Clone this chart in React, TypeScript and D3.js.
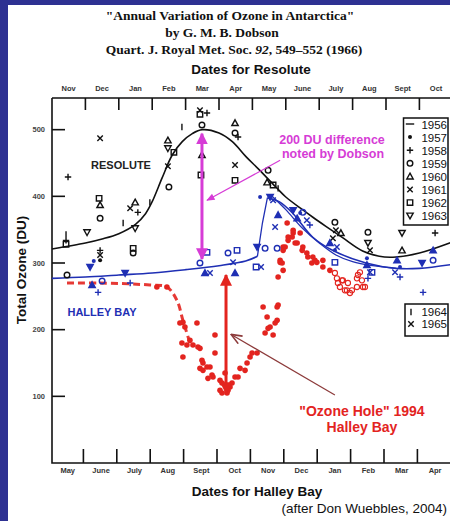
import React from 'react';
import * as d3 from 'd3';

const W = 450, H = 521;

const topMonths = ["Nov","Dec","Jan","Feb","Mar","Apr","May","June","July","Aug","Sept","Oct"];
const bottomMonths = ["May","June","July","Aug","Sept","Oct","Nov","Dec","Jan","Feb","Mar","Apr"];
const yTicks = [100, 200, 300, 400, 500];

// [month position (0..12), total ozone DU]
const resoluteCurve: [number, number][] = [
  [0,321],[1,330],[1.5,336],[2,344],[2.5,358],[2.8,374],[3.0,392],[3.3,428],[3.6,462],[3.9,482],
  [4.2,494],[4.5,500],[5,495],[5.4,482],[5.8,460],[6.2,440],[6.7,414],[7,399],[7.5,380],[7.8,369],
  [8.2,355],[8.7,338],[9.3,318],[9.8,310],[10.3,309],[11,315],[11.9,330],[12,332]
];
const halleyCurve: [number, number][] = [
  [0,277],[1,279],[2,282],[3,285],[4,290],[5,296],[5.8,303],[6.15,310]
];
const halleyRise: [number, number][] = [[6.15,310],[6.3,360],[6.45,398]];
const halleyFall: [number, number][] = [
  [6.45,398],[6.8,392],[7.2,375],[7.8,339],[8.4,319],[9.4,300],[10.3,292],[11,292],[12,298]
];
const halleyFall2: [number, number][] = [
  [6.55,402],[7,380],[7.5,352],[8,330],[8.5,312],[9,302],[9.6,296],[10.3,292]
];
const ozoneHoleDashed: [number, number][] = [
  [0.45,270],[1.44,270],[2.93,267],[3.44,264],[3.74,244],[3.92,214],[4.13,180]
];

type Sym = 'plus'|'cross'|'circle'|'dot'|'triUp'|'triDown'|'square'|'bar'|'dash';

const resoluteMarks: [Sym, number, number][] = [
  ['plus',0.48,429],['cross',1.44,487],['square',1.41,397],['triUp',1.44,387],['circle',1.44,367],
  ['bar',0.42,343],['plus',0.42,334],['square',0.42,328],['triDown',1.05,346],['plus',1.44,319],
  ['cross',1.44,312],['dot',1.44,304],['triUp',2.49,391],['cross',2.34,382],['plus',2.57,376],
  ['bar',2.93,391],['bar',2.13,360],['triDown',2.49,352],['square',2.43,322],['circle',2.43,315],
  ['triUp',3.47,484],['triDown',3.47,472],['square',3.65,466],['cross',3.47,445],['circle',3.5,414],
  ['bar',3.89,504],['cross',4.43,529],['square',4.43,523],['plus',4.64,525],['circle',4.49,507],
  ['triUp',4.49,462],['square',4.46,432],['triUp',5.48,510],['circle',5.48,495],['plus',5.57,489],
  ['cross',5.48,447],['square',5.48,424],['circle',6.47,439],['triUp',6.44,421],['square',6.62,417],
  ['bar',6.77,412],['circle',8.47,361],['cross',8.5,349],['triUp',8.65,345],['cross',8.41,337],
  ['circle',9.46,346],['triDown',9.46,330],['cross',9.52,319],['triDown',10.48,345],['triUp',10.48,319],
  ['plus',11.47,345],['circle',0.45,282]
];

const halleyMarks: [Sym, number, number][] = [
  ['triDown',1.14,294],['dot',1.25,303],['triUp',1.2,267],['plus',1.38,256],['circle',1.5,273],
  ['triDown',2.19,285],['plus',2.34,270],['square',4.64,316],['circle',4.43,300],['triUp',4.58,285],
  ['cross',4.73,285],['circle',5.27,315],['square',5.54,319],['cross',5.42,301],['triUp',5.48,285],
  ['triDown',6.14,324],['circle',6.38,322],['circle',6.74,322],['square',6.11,294],['cross',6.26,294],
  ['dot',6.23,399],['triDown',6.53,399],['cross',6.62,394],['triUp',6.77,372],['cross',6.68,354],
  ['triDown',7.22,379],['dot',7.43,375],['cross',7.63,364],['triUp',7.34,367],['circle',7.51,376],
  ['plus',7.72,357],['triUp',8.32,330],['dot',8.47,319],['cross',8.53,324],['square',8.47,301],
  ['dot',9.43,307],['triUp',9.43,297],['cross',9.52,286],['square',9.58,286],['plus',9.46,277],
  ['triUp',10.33,304],['dot',10.42,294],['cross',10.27,286],['plus',10.42,279],['triDown',11.08,300],
  ['triUp',11.41,319],['circle',11.41,304],['plus',11.11,256]
];

const redDots: [number, number][] = [
  [3.14,264],[3.44,264],[3.83,210],[3.98,204],[4.34,210],[3.92,211],[3.89,180],[4.13,184],[4.22,177],
  [4.37,174],[3.92,159],[4.04,177],[4.43,172],[4.88,192],[4.49,154],[4.43,142],[4.64,144],[4.79,132],
  [4.88,165],[5.03,124],[5.09,105],[4.67,127],[4.52,150],[4.73,144],[4.52,139],[4.82,129],[5.09,120],
  [5.03,109],[5.24,105],[5.33,114],[5.18,135],[5.48,129],[5.63,142],[5.84,150],[5.93,159],[6.14,165],
  [5.99,165],[5.78,139],[5.57,129],[5.39,120],[5.27,109],[6.32,234],[6.44,219],[6.53,204],[6.38,195],
  [6.74,234],[6.74,214],[6.68,210],[6.47,202],[6.62,192],[6.77,237],[6.77,279],[6.83,301],[6.92,319],
  [7.07,334],[7.22,345],[7.34,330],[7.04,360],[7.22,349],[7.43,345],[7.07,339],[6.92,324],[7.51,324],
  [7.63,315],[7.81,309],[7.93,301],[8.11,304],[8.11,294],[8.32,289],[6.83,304],[6.92,289],[6.89,300],
  [6.98,324],[7.49,319],[7.66,309],[7.78,300],[7.87,304],[7.28,330],[7.19,339]
];
const redRings: [number, number][] = [
  [8.47,285],[8.56,270],[8.68,274],[8.77,259],[8.86,270],[8.92,255],[8.98,259],[9.13,264],[9.16,282],
  [9.28,274],[9.37,264],[8.62,264],[8.83,259],[9.13,277],[9.22,286],[8.71,274],[9.31,264],[8.53,277]
];

const legendYears1: [Sym, string][] = [
  ['dash','1956'],['dot','1957'],['plus','1958'],['circle','1959'],['triUp','1960'],['cross','1961'],['square','1962'],['triDown','1963']
];
const legendYears2: [Sym, string][] = [['bar','1964'],['cross','1965']];

// arrows in data units
const dobsonArrow = { m: 4.49, from: 497, to: 303 };
const holeArrow = { m: 5.21, from: 285, to: 102 };
const dobsonPointer = { m1: 6.83, v1: 454, m2: 4.64, v2: 394 };
const holePointer = { m1: 8.47, v1: 102, m2: 5.39, v2: 192 };

const BLUE = '#1f2fb4';
const RED = '#e3241f';
const MAGENTA = '#d63cd6';
const FRAME_BG = '#2e3192';

function symPath(t: Sym, s = 3.2): string {
  const c = s * 0.85;
  switch (t) {
    case 'plus': return `M${-s},0H${s}M0,${-s}V${s}`;
    case 'cross': return `M${-c},${-c}L${c},${c}M${-c},${c}L${c},${-c}`;
    case 'triUp': return `M0,${-s}L${s},${s * 0.8}L${-s},${s * 0.8}Z`;
    case 'triDown': return `M0,${s}L${s},${-s * 0.8}L${-s},${-s * 0.8}Z`;
    case 'square': return `M${-c},${-c}h${2 * c}v${2 * c}h${-2 * c}Z`;
    case 'bar': return `M0,${-s}V${s}`;
    case 'dash': return `M${-s - 1},0H${s + 1}`;
    default: return '';
  }
}

function Marker({ t, x, y, color, fillTri }: { t: Sym; x: number; y: number; color: string; fillTri?: boolean }) {
  if (t === 'circle') return <circle cx={x} cy={y} r={2.8} fill="none" stroke={color} strokeWidth={1.4} />;
  if (t === 'dot') return <circle cx={x} cy={y} r={2} fill={color} />;
  const filled = fillTri && (t === 'triUp' || t === 'triDown');
  return <path d={symPath(t)} transform={`translate(${x},${y})`} fill={filled ? color : 'none'} stroke={color} strokeWidth={1.4} strokeLinejoin="miter" />;
}

export default function App() {
  const left = 52, right = 452.8, top = 98, bottom = 463;
  const x = d3.scaleLinear().domain([0, 12]).range([left, right]);
  const y = d3.scaleLinear().domain([0, 547.5]).range([bottom, top]);
  const line = d3.line<[number, number]>().x(d => x(d[0])).y(d => y(d[1])).curve(d3.curveCatmullRom.alpha(0.5));
  const straight = d3.line<[number, number]>().x(d => x(d[0])).y(d => y(d[1]));
  const sans = "'Liberation Sans', Arial, sans-serif";
  const serif = "'Liberation Serif', 'Times New Roman', serif";
  const boundaries = d3.range(1, 12);

  return (
    <div style={{ position: 'absolute', left: 0, top: 0, width: W, height: H }}>
      <svg width={W} height={H} viewBox={`0 0 ${W} ${H}`} style={{ display: 'block' }}>
        <defs>
          <marker id="magHead" viewBox="0 0 10 10" refX="9" refY="5" markerWidth="4" markerHeight="4" orient="auto-start-reverse" markerUnits="strokeWidth">
            <path d="M0,0L10,5L0,10Z" fill={MAGENTA} />
          </marker>
          <marker id="redHead" viewBox="0 0 10 10" refX="9" refY="5" markerWidth="4" markerHeight="4" orient="auto-start-reverse" markerUnits="strokeWidth">
            <path d="M0,0L10,5L0,10Z" fill={RED} />
          </marker>
          <marker id="magPtr" viewBox="0 0 10 10" refX="9" refY="5" markerWidth="8" markerHeight="7" orient="auto" markerUnits="strokeWidth">
            <path d="M0,1L10,5L0,9Z" fill={MAGENTA} />
          </marker>
          <marker id="brownPtr" viewBox="0 0 10 10" refX="9" refY="5" markerWidth="10" markerHeight="9" orient="auto" markerUnits="strokeWidth">
            <path d="M0,1L10,5L0,9" fill="none" stroke="#8c3a3a" strokeWidth="1.5" />
          </marker>
        </defs>
        <rect x={0} y={0} width={W} height={H} fill={FRAME_BG} />
        <rect x={8} y={5} width={W - 8} height={H - 5} fill="#ffffff" />

        {/* Titles */}
        <g fontFamily={serif} fontWeight="bold" fontSize={13.5} textAnchor="middle" fill="#111">
          <text x={230} y={20}>"Annual Variation of Ozone in Antarctica"</text>
          <text x={222} y={37}>by G. M. B. Dobson</text>
          <text x={234} y={54}>Quart. J. Royal Met. Soc. <tspan fontStyle="italic">92</tspan>, 549–552 (1966)</text>
        </g>
        <text x={251} y={74} fontFamily={sans} fontWeight="bold" fontSize={13.5} textAnchor="middle" fill="#111">Dates for Resolute</text>
        <text x={257} y={496} fontFamily={sans} fontWeight="bold" fontSize={13.5} textAnchor="middle" fill="#111">Dates for Halley Bay</text>
        <text x={447} y={513} fontFamily={sans} fontSize={13.5} textAnchor="end" fill="#111">(after Don Wuebbles, 2004)</text>
        <text transform={`translate(26,270) rotate(-90)`} fontFamily={sans} fontWeight="bold" fontSize={13.5} textAnchor="middle" fill="#111">Total Ozone (DU)</text>

        {/* month labels */}
        <g fontFamily={sans} fontWeight="bold" fontSize={7.5} textAnchor="middle" fill="#333">
          {topMonths.map((mo, i) => <text key={'t' + i} x={x(i + 0.5)} y={91}>{mo}</text>)}
          {bottomMonths.map((mo, i) => <text key={'b' + i} x={x(i + 0.5) - 1} y={473}>{mo}</text>)}
        </g>
        <g fontFamily={sans} fontWeight="bold" fontSize={7.5} textAnchor="end" fill="#444">
          {yTicks.map(t => <text key={t} x={45} y={y(t) + 2.5}>{t}</text>)}
        </g>

        {/* frame and ticks */}
        <g stroke="#111" strokeWidth={1.6} fill="none">
          <path d={`M${left},${top}H${right}M${left},${top}V${bottom}H${right}M${right},${top}V${bottom}`} />
          {boundaries.map(b => <line key={'tt' + b} x1={x(b)} x2={x(b)} y1={top} y2={top + 12} />)}
          {boundaries.map(b => <line key={'bt' + b} x1={x(b) - 2} x2={x(b) - 2} y1={bottom} y2={bottom - 14} />)}
          {yTicks.map(t => <line key={'yt' + t} x1={left} x2={left + 13} y1={y(t)} y2={y(t)} />)}
        </g>

        {/* curves */}
        <path d={line(resoluteCurve) || ''} fill="none" stroke="#111" strokeWidth={1.6} />
        <path d={line(halleyCurve) || ''} fill="none" stroke={BLUE} strokeWidth={1.6} />
        <path d={straight(halleyRise) || ''} fill="none" stroke={BLUE} strokeWidth={1.3} />
        <path d={line(halleyFall) || ''} fill="none" stroke={BLUE} strokeWidth={1.6} />
        <path d={line(halleyFall2) || ''} fill="none" stroke={BLUE} strokeWidth={1.3} />
        <path d={line(ozoneHoleDashed) || ''} fill="none" stroke={RED} strokeWidth={3} strokeDasharray="7,4" opacity={0.9} />

        {/* red 1994 data */}
        {redDots.map((d, i) => <circle key={'rd' + i} cx={x(d[0])} cy={y(d[1])} r={2.8} fill={RED} />)}
        {redRings.map((d, i) => <circle key={'rr' + i} cx={x(d[0])} cy={y(d[1])} r={2.6} fill="none" stroke={RED} strokeWidth={1.1} />)}

        {/* markers */}
        {resoluteMarks.map((d, i) => <Marker key={'r' + i} t={d[0]} x={x(d[1])} y={y(d[2])} color="#111" />)}
        {halleyMarks.map((d, i) => <Marker key={'h' + i} t={d[0]} x={x(d[1])} y={y(d[2])} color={BLUE} fillTri />)}

        {/* arrows */}
        <line x1={x(dobsonArrow.m)} x2={x(dobsonArrow.m)} y1={y(dobsonArrow.to) - 2} y2={y(dobsonArrow.from) + 2}
          stroke={MAGENTA} strokeWidth={3} markerStart="url(#magHead)" markerEnd="url(#magHead)" />
        <line x1={x(holeArrow.m)} x2={x(holeArrow.m)} y1={y(holeArrow.to) - 2} y2={y(holeArrow.from) + 2}
          stroke={RED} strokeWidth={3} markerStart="url(#redHead)" markerEnd="url(#redHead)" />
        <line x1={x(dobsonPointer.m1)} y1={y(dobsonPointer.v1)} x2={x(dobsonPointer.m2)} y2={y(dobsonPointer.v2)}
          stroke={MAGENTA} strokeWidth={1.2} markerEnd="url(#magPtr)" />
        <line x1={x(holePointer.m1)} y1={y(holePointer.v1)} x2={x(holePointer.m2)} y2={y(holePointer.v2)}
          stroke="#8c3a3a" strokeWidth={1.2} markerEnd="url(#brownPtr)" />

        {/* annotations */}
        <g fontFamily={sans} fontWeight="bold" fontSize={12.5} textAnchor="middle" fill={MAGENTA}>
          <text x={332} y={144}>200 DU difference</text>
          <text x={333} y={158}>noted by Dobson</text>
        </g>
        <text x={121} y={169} fontFamily={sans} fontWeight="bold" fontSize={11} textAnchor="middle" fill="#222">RESOLUTE</text>
        <text x={102} y={316} fontFamily={sans} fontWeight="bold" fontSize={11} textAnchor="middle" fill={BLUE}>HALLEY BAY</text>
        <g fontFamily={sans} fontWeight="bold" fontSize={14} textAnchor="middle" fill={RED}>
          <text x={362} y={416}>"Ozone Hole" 1994</text>
          <text x={362} y={432}>Halley Bay</text>
        </g>

        {/* legends */}
        <rect x={403.5} y={118} width={44.5} height={107} fill="#fff" stroke="#111" strokeWidth={1.5} />
        {legendYears1.map((d, i) => (
          <g key={'l' + i}>
            <Marker t={d[0]} x={410} y={124 + i * 13.1} color="#111" />
            <text x={447} y={128.5 + i * 13.1} fontFamily={sans} fontSize={11.5} textAnchor="end" fill="#111">{d[1]}</text>
          </g>
        ))}
        <rect x={405} y={304} width={43} height={32} fill="#fff" stroke="#111" strokeWidth={1.5} />
        {legendYears2.map((d, i) => (
          <g key={'l2' + i}>
            <Marker t={d[0]} x={411} y={312 + i * 12} color="#111" />
            <text x={447} y={316 + i * 12} fontFamily={sans} fontSize={11.5} textAnchor="end" fill="#111">{d[1]}</text>
          </g>
        ))}
      </svg>
    </div>
  );
}
